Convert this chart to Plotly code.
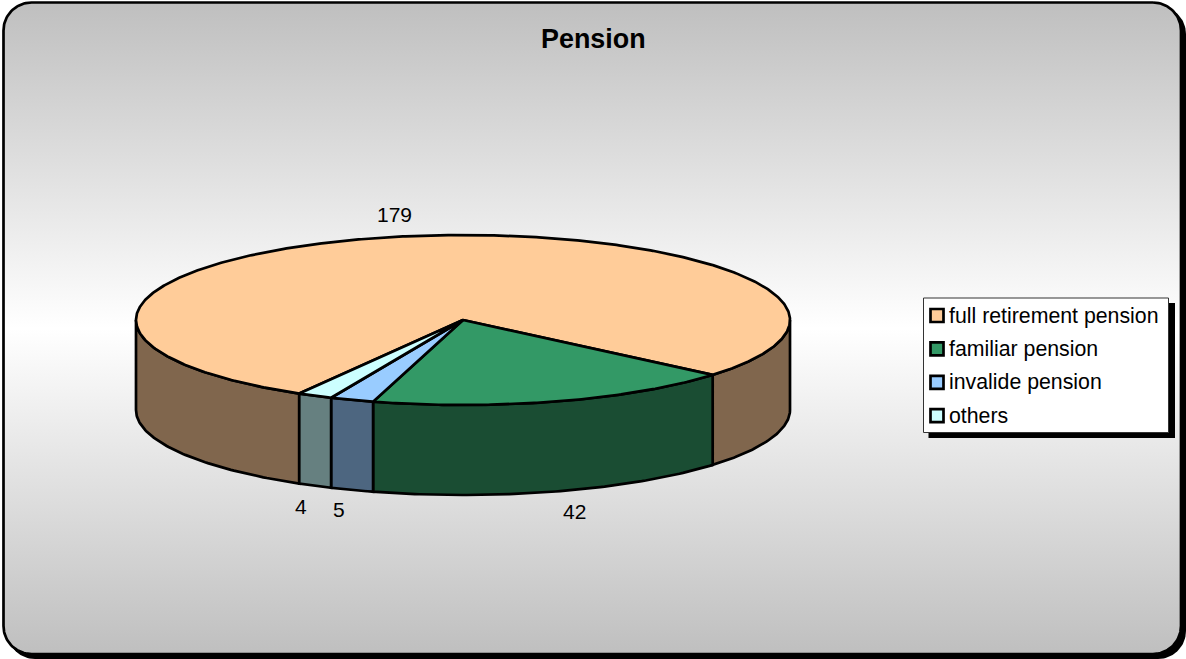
import numpy as np
import plotly.graph_objects as go

# ---- data ----
title = "Pension"
categories = ["full retirement pension", "familiar pension", "invalide pension", "others"]
values = [179, 42, 5, 4]
top_colors = ["#FFCC99", "#339966", "#99CCFF", "#CCFFFF"]
side_colors = ["#80664D", "#1A4D33", "#4D6680", "#668080"]

# ---- layout constants (pixels) ----
W, H = 1186, 659
CX, CY, RX, RY, DEPTH = 463, 320, 327, 85, 90
START = -239.95
FONT = "Liberation Sans, Arial, sans-serif"
LINE = 2.7

fig = go.Figure()


def add_poly(xs, ys, fill, width=LINE, line="black", **kw):
    fig.add_trace(go.Scatter(x=list(xs), y=list(ys), mode="lines", fill="toself", fillcolor=fill,
                             line=dict(color=line, width=width), hoverinfo="skip",
                             showlegend=False, **kw))


def round_rect(x0, y0, x1, y1, r):
    xs, ys = [], []
    corners = [(x1 - r, y0 + r, -90), (x1 - r, y1 - r, 0), (x0 + r, y1 - r, 90), (x0 + r, y0 + r, 180)]
    for cx, cy, a in corners:
        t = np.radians(np.linspace(a, a + 90, 24))
        xs += list(cx + r * np.cos(t))
        ys += list(cy + r * np.sin(t))
    return xs + xs[:1], ys + ys[:1]


# panel shadow + gradient panel
sx, sy = round_rect(7, 6, 1186, 659, 28)
add_poly(sx, sy, "black", width=0, line="black")
px, py = round_rect(3.5, 2.5, 1181, 654, 28)
fig.add_trace(go.Scatter(
    x=px, y=py, mode="lines", fill="toself",
    fillgradient=dict(type="vertical",
                      colorscale=[[0, "#BFBFBF"], [0.5, "#FFFFFF"], [1, "#BFBFBF"]]),
    line=dict(color="black", width=LINE), hoverinfo="skip", showlegend=False))

# slice angles
angles = START + np.concatenate([[0], np.cumsum(values)]) / sum(values) * 360


def ex(t):
    return CX + RX * np.cos(np.radians(t))


def ey(t):
    return CY + RY * np.sin(np.radians(t))


# side walls (visible front half only)
for a, b, col in zip(angles[:-1], angles[1:], side_colors):
    for k in (-1, 0):
        lo, hi = max(a, 360 * k), min(b, 360 * k + 180)
        if hi > lo:
            t = np.linspace(lo, hi, 80)
            xs = np.concatenate([ex(t), ex(t[::-1])])
            ys = np.concatenate([ey(t), ey(t[::-1]) + DEPTH])
            add_poly(np.append(xs, xs[0]), np.append(ys, ys[0]), col)

# top faces
for a, b, col in zip(angles[:-1], angles[1:], top_colors):
    t = np.linspace(a, b, max(int(b - a) * 2, 12))
    add_poly(np.concatenate([[CX], ex(t), [CX]]), np.concatenate([[CY], ey(t), [CY]]), col)

# data labels
label_pos = [(394, 214), (574, 511), (339, 509), (301, 506)]
for v, (lx, ly) in zip(values, label_pos):
    fig.add_annotation(x=lx, y=ly, text=str(v), showarrow=False, xref="x", yref="y",
                       font=dict(family=FONT, size=21, color="black"))

# title
fig.add_annotation(x=593, y=39, text=f"<b>{title}</b>", showarrow=False, xref="x", yref="y",
                   font=dict(family=FONT, size=26.9, color="black"))

# legend box
lx0, ly0, lx1, ly1 = 923.5, 298, 1168.5, 432.5
add_poly([lx0 + 5, lx1 + 6.5, lx1 + 6.5, lx0 + 5, lx0 + 5],
         [ly0 + 5, ly0 + 5, ly1 + 5.5, ly1 + 5.5, ly0 + 5], "black", width=0)
add_poly([lx0, lx1, lx1, lx0, lx0], [ly0, ly0, ly1, ly1, ly0], "white", width=1, line="#333333")
legend_y0, legend_step = 315.5, 33.4
for i, (name, col) in enumerate(zip(categories, top_colors)):
    fig.add_trace(go.Scatter(
        x=[937], y=[legend_y0 + i * legend_step], mode="markers",
        marker=dict(symbol="square", size=13, color=col, line=dict(color="black", width=2.7)),
        hoverinfo="skip", showlegend=False, name=name))
    fig.add_annotation(x=947, y=legend_y0 + i * legend_step, text=name, showarrow=False,
                       xref="x", yref="y", xanchor="left",
                       font=dict(family=FONT, size=21.3, color="black"))

fig.update_layout(
    width=W, height=H, autosize=False,
    margin=dict(l=0, r=0, t=0, b=0, pad=0),
    paper_bgcolor="white", plot_bgcolor="rgba(0,0,0,0)",
    showlegend=False,
    xaxis=dict(range=[0, W], visible=False, fixedrange=True),
    yaxis=dict(range=[H, 0], visible=False, fixedrange=True),
)
fig.write_html("out.html", config=dict(displayModeBar=False),
               default_width=f"{W}px", default_height=f"{H}px",
               post_script="document.body.style.margin='0';document.documentElement.style.overflow='hidden';")
